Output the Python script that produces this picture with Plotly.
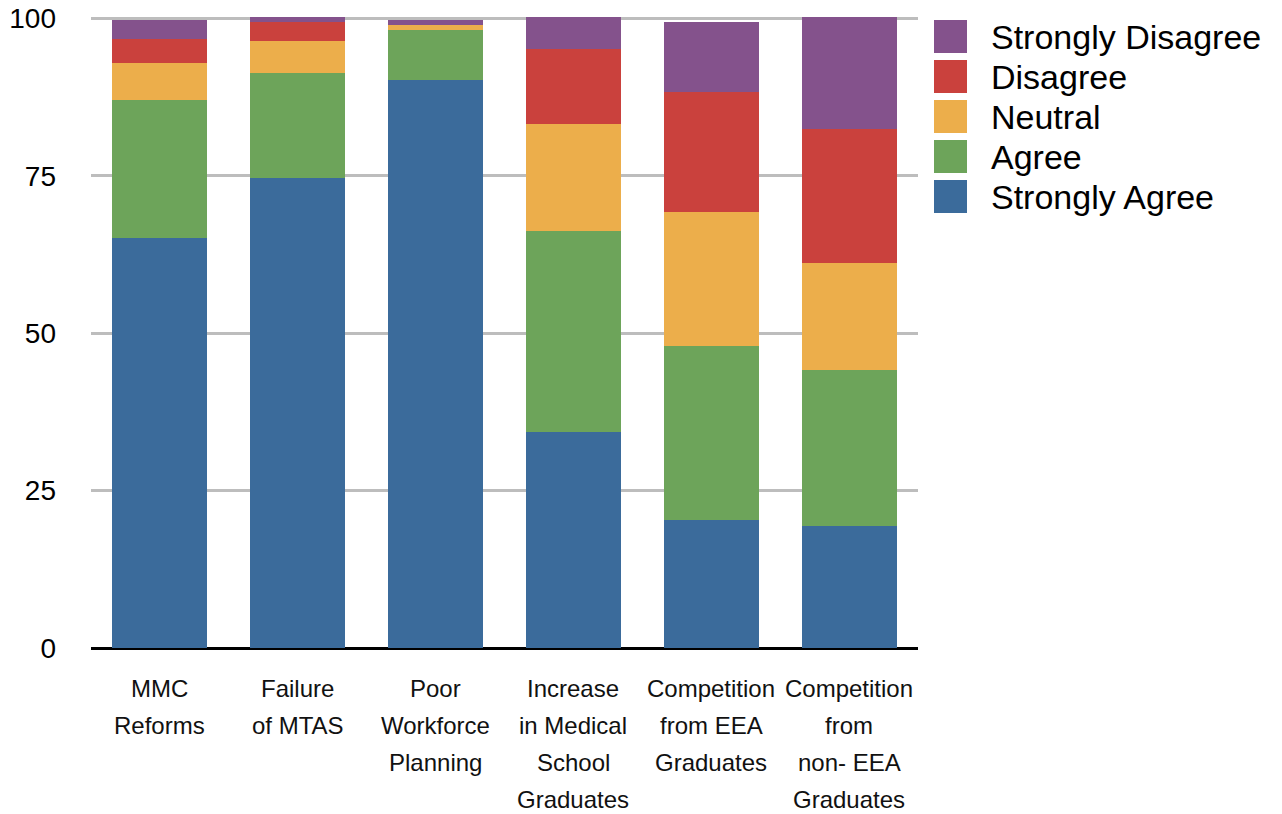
import plotly.graph_objects as go

# Survey responses (% of respondents) per perceived cause
categories = [
    "MMC Reforms",
    "Failure of MTAS",
    "Poor Workforce Planning",
    "Increase in Medical School Graduates",
    "Competition from EEA Graduates",
    "Competition from non- EEA Graduates",
]
category_lines = [
    ["MMC", "Reforms"],
    ["Failure", "of MTAS"],
    ["Poor", "Workforce", "Planning"],
    ["Increase", "in Medical", "School", "Graduates"],
    ["Competition", "from EEA", "Graduates"],
    ["Competition", "from", "non- EEA", "Graduates"],
]

strongly_agree = [65.2, 74.6, 90.3, 34.3, 20.3, 19.4]
agree = [21.9, 16.8, 7.8, 32.0, 27.7, 24.8]
neutral = [5.9, 5.1, 0.8, 17.0, 21.3, 17.0]
disagree = [3.8, 2.9, 0.0, 11.9, 19.1, 21.2]
strongly_disagree = [3.0, 0.8, 0.9, 5.1, 11.0, 17.9]

series_names = ["Strongly Agree", "Agree", "Neutral", "Disagree", "Strongly Disagree"]
series_values = [strongly_agree, agree, neutral, disagree, strongly_disagree]
series_colors = ["#3B6B9B", "#6DA45A", "#ECAE4B", "#CA413D", "#84528C"]

y_ticks = [0, 25, 50, 75, 100]

FONT = "Liberation Sans, Arial, Helvetica, sans-serif"
W, H = 1282, 814
M_L, M_R, M_T, M_B = 91, 364, 16, 166
PLOT_W = W - M_L - M_R
PLOT_H = H - M_T - M_B


def px_x(px):
    return (px - M_L) / PLOT_W


def px_y(py):
    return (H - M_B - py) / PLOT_H


fig = go.Figure()
for name, vals, col in zip(series_names, series_values, series_colors):
    fig.add_trace(go.Bar(
        x=categories, y=vals, name=name,
        marker=dict(color=col, line=dict(width=0)),
        showlegend=False,
    ))

# Multi-line category labels under the bars
annotations = []
for cat, lines in zip(categories, category_lines):
    for i, line in enumerate(lines):
        annotations.append(dict(
            x=cat, xref="x", y=0, yref="paper",
            yanchor="middle", xanchor="center",
            yshift=-(40 + 37.3 * i),
            text=line, showarrow=False,
            font=dict(family=FONT, size=24, color="#111"),
        ))

# Legend: largest-to-smallest from top, square swatches with labels
shapes = []
for k, (name, col) in enumerate(zip(series_names[::-1], series_colors[::-1])):
    top = 20 + 40 * k
    shapes.append(dict(
        type="rect", xref="paper", yref="paper",
        x0=px_x(934), x1=px_x(967), y0=px_y(top + 33), y1=px_y(top),
        fillcolor=col, line=dict(width=0),
    ))
    annotations.append(dict(
        x=px_x(989), xref="paper", y=px_y(top + 17), yref="paper",
        xanchor="left", yanchor="middle", text=name, showarrow=False,
        font=dict(family=FONT, size=34, color="#000"),
    ))

fig.update_layout(
    width=W, height=H,
    margin=dict(l=M_L, r=M_R, t=M_T, b=M_B, pad=0, autoexpand=False),
    barmode="stack",
    bargap=0.31,
    plot_bgcolor="white",
    paper_bgcolor="white",
    font=dict(family=FONT, color="#000"),
    annotations=annotations,
    shapes=shapes,
    showlegend=False,
    xaxis=dict(
        type="category",
        showticklabels=False,
        showgrid=False,
        ticks="",
        showline=False,
        zeroline=False,
        automargin=False,
    ),
    yaxis=dict(
        range=[0, 100.4],
        tickvals=y_ticks,
        ticktext=[str(v) for v in y_ticks],
        tickfont=dict(family=FONT, size=28, color="#000"),
        ticks="",
        ticklabelstandoff=34,
        showgrid=True,
        gridcolor="#BDBDBD",
        gridwidth=2.5,
        zeroline=True,
        zerolinecolor="#000",
        zerolinewidth=3,
        showline=False,
        automargin=False,
    ),
)

fig.write_html("out.html")
